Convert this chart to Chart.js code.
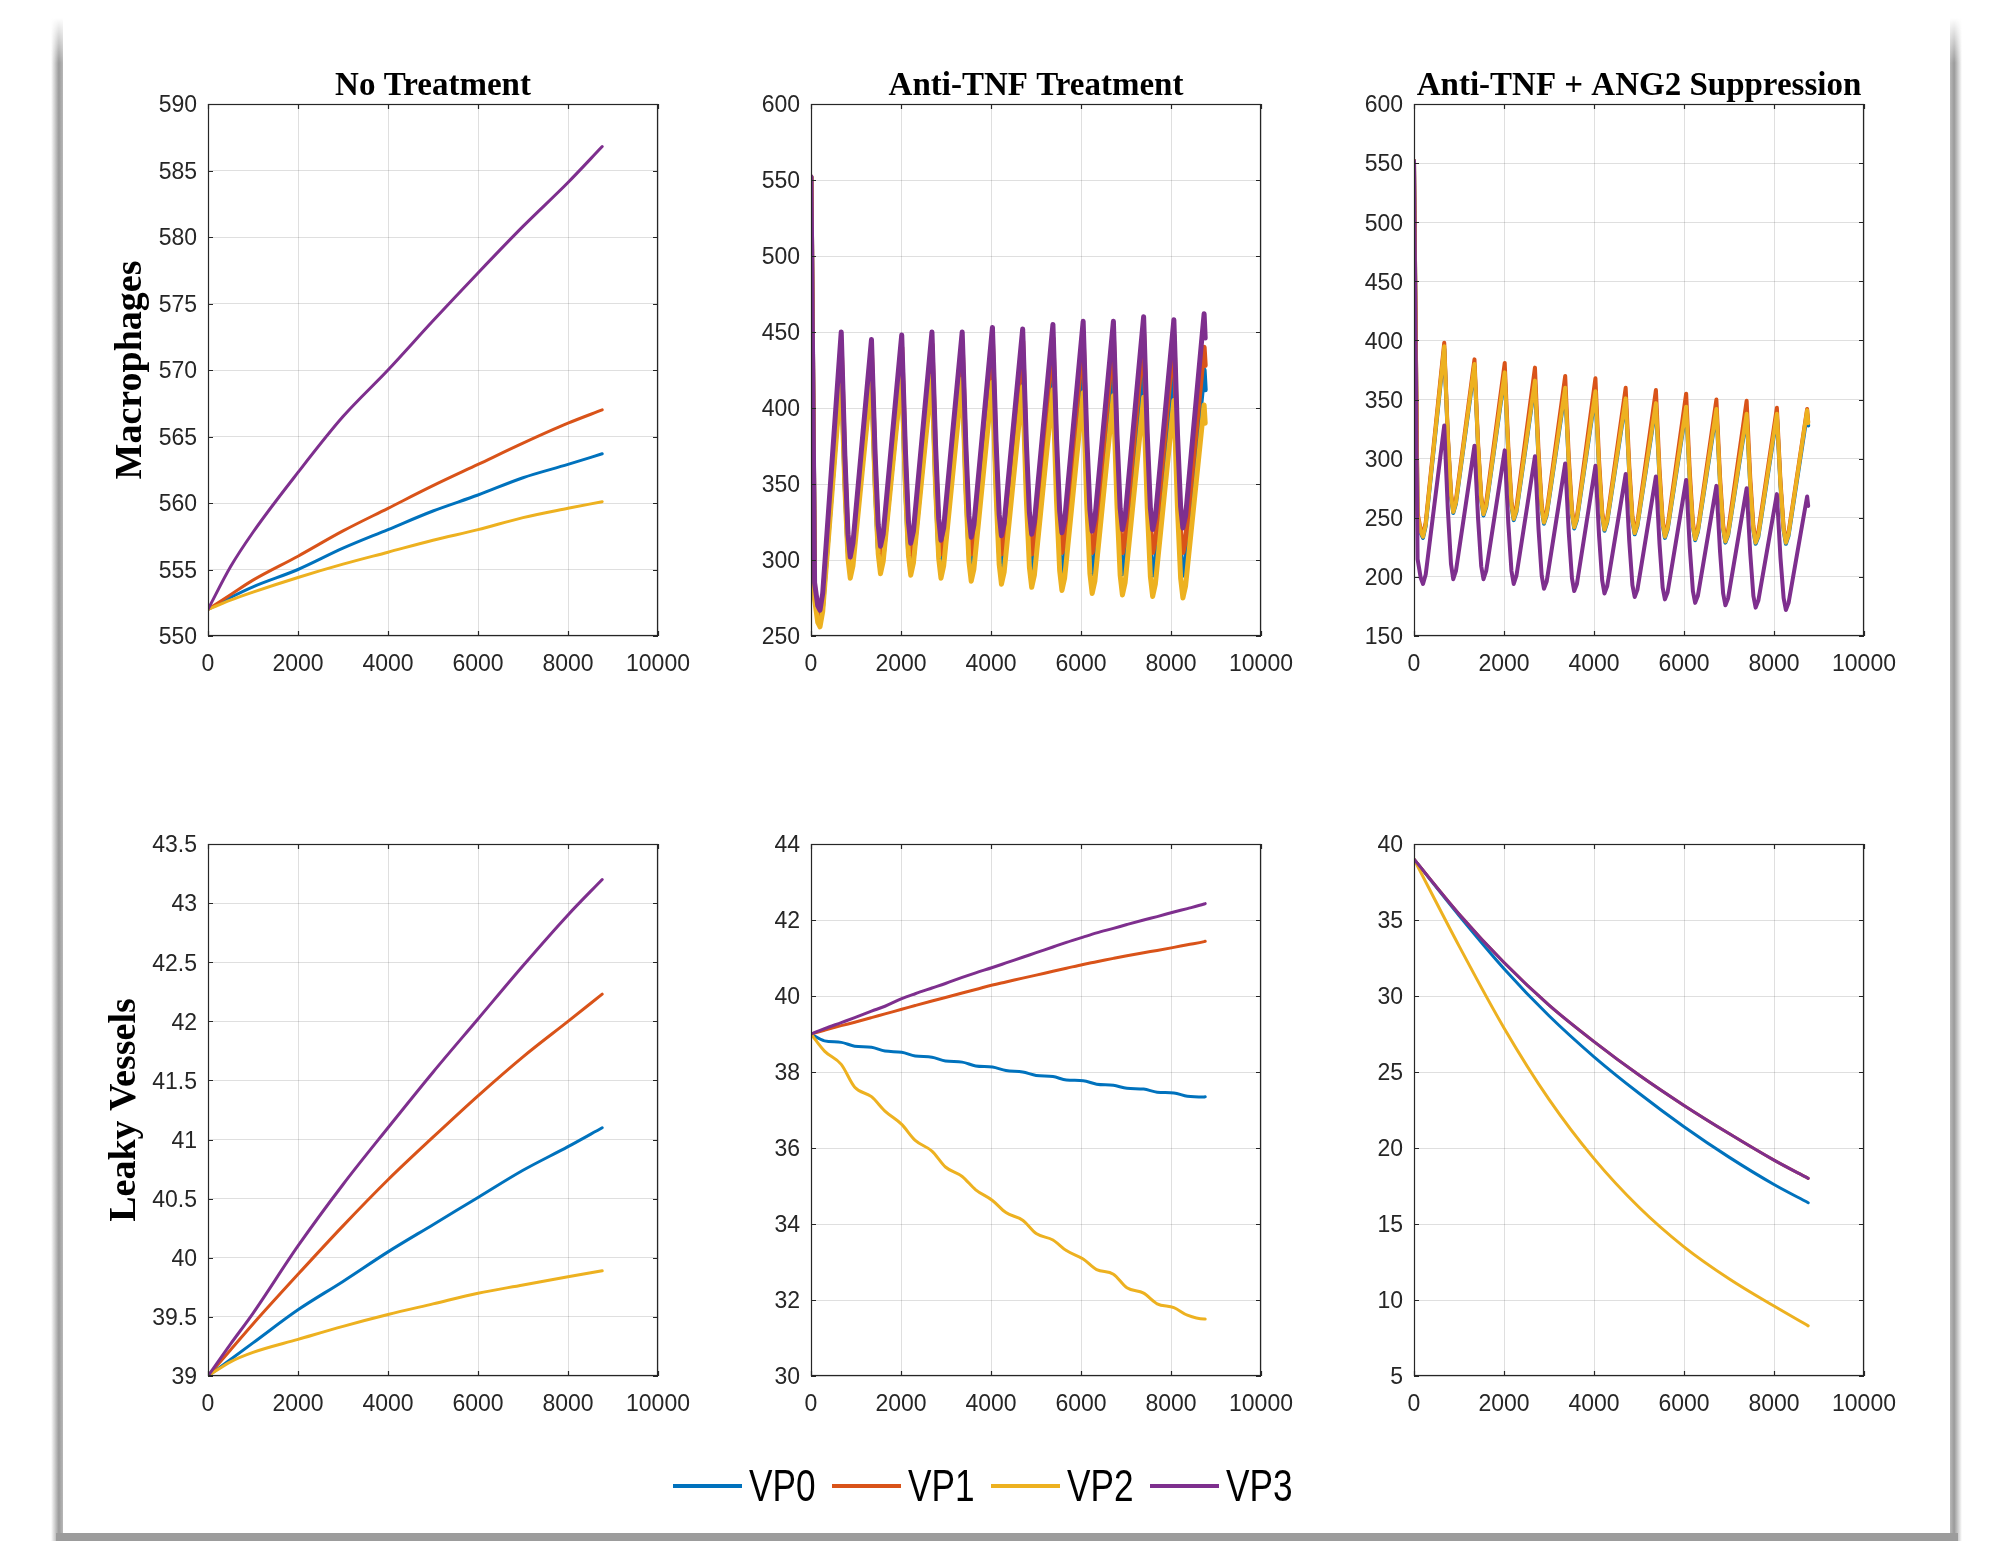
<!DOCTYPE html>
<html>
<head>
<meta charset="utf-8">
<script src="https://cdn.jsdelivr.net/npm/chart.js@4.4.0/dist/chart.umd.min.js"></script>
<style>
  html, body { margin: 0; padding: 0; background: #fff; }
  body { width: 1992px; height: 1541px; position: relative; overflow: hidden; }
  .panel { position: absolute; }
  .edge { position: absolute; }
  #edgeLeft { left: 51px; top: 18px; width: 12px; height: 1523px;
    background: linear-gradient(to right, rgba(160,160,160,0), #9a9a9a 65%, #b8b8b8);
    -webkit-mask-image: linear-gradient(to bottom, transparent, #000 45px); }
  #edgeRight { left: 1950px; top: 18px; width: 12px; height: 1523px;
    background: linear-gradient(to left, rgba(160,160,160,0), #9a9a9a 65%, #b8b8b8);
    -webkit-mask-image: linear-gradient(to bottom, transparent, #000 45px); }
  #edgeBottom { left: 56px; top: 1533px; width: 1902px; height: 8px; background: #9c9c9c; }
  #legend { position: absolute; left: 673px; top: 1461px; height: 50px; display: flex; align-items: center; }
  #legend .item { width: 159px; display: flex; align-items: center; }
  #legend .swatch { width: 70px; height: 4px; }
  #legend .name { margin-left: 7px; font: 44px "Liberation Sans", Arial, sans-serif; line-height: 1;
    color: #000; display: inline-block; transform: scaleX(0.8); transform-origin: left center; }
</style>
</head>
<body>
<div class="edge" id="edgeLeft"></div>
<div class="edge" id="edgeRight"></div>
<div class="edge" id="edgeBottom"></div>

<div class="panel" style="left:88px;top:63px"><canvas id="c1" width="620" height="623"></canvas></div>
<div class="panel" style="left:691px;top:63px"><canvas id="c2" width="620" height="623"></canvas></div>
<div class="panel" style="left:1294px;top:63px"><canvas id="c3" width="620" height="623"></canvas></div>
<div class="panel" style="left:88px;top:818px"><canvas id="c4" width="620" height="608"></canvas></div>
<div class="panel" style="left:691px;top:818px"><canvas id="c5" width="620" height="608"></canvas></div>
<div class="panel" style="left:1294px;top:818px"><canvas id="c6" width="620" height="608"></canvas></div>

<div id="legend"></div>

<script>
// series names and MATLAB default colours
const NAMES = ['VP0', 'VP1', 'VP2', 'VP3'];
const COLORS = ['#0072BD', '#D95319', '#EDB120', '#7E2F8E'];

// x axis (hours)
const X_MAX = 10000;
const X_STEP = 2000;

// smooth panels: sampled hours
const hours = [0, 500, 1000, 2000, 3000, 4000, 5000, 6000, 7000, 8000, 8760];

// No treatment - macrophages
const noTxMacVP0 = [552, 552.9, 553.7, 555.0, 556.6, 558.0, 559.4, 560.6, 561.9, 562.9, 563.7];
const noTxMacVP1 = [552, 553.1, 554.2, 556.0, 557.9, 559.6, 561.3, 562.9, 564.5, 566.0, 567.0];
const noTxMacVP2 = [552, 552.7, 553.3, 554.4, 555.4, 556.3, 557.2, 558.0, 558.9, 559.6, 560.1];
const noTxMacVP3 = [552, 555.2, 557.8, 562.3, 566.5, 570.0, 573.7, 577.3, 580.8, 584.1, 586.8];

// No treatment - leaky vessels
const noTxLeakVP0 = [39.0, 39.14, 39.28, 39.56, 39.80, 40.05, 40.28, 40.51, 40.74, 40.94, 41.10];
const noTxLeakVP1 = [39.0, 39.22, 39.44, 39.86, 40.27, 40.66, 41.02, 41.37, 41.70, 42.00, 42.23];
const noTxLeakVP2 = [39.0, 39.12, 39.20, 39.31, 39.42, 39.52, 39.61, 39.70, 39.77, 39.84, 39.89];
const noTxLeakVP3 = [39.0, 39.27, 39.53, 40.10, 40.62, 41.10, 41.57, 42.02, 42.47, 42.90, 43.20];

// dosing panels: peak, fall, near trough, trough, early rise in each 672 h cycle
const doseHours = [0, 80, 150, 200, 260, 672, 752, 822, 872, 932,
  1344, 1424, 1494, 1544, 1604, 2016, 2096, 2166, 2216, 2276,
  2688, 2768, 2838, 2888, 2948, 3360, 3440, 3510, 3560, 3620,
  4032, 4112, 4182, 4232, 4292, 4704, 4784, 4854, 4904, 4964,
  5376, 5456, 5526, 5576, 5636, 6048, 6128, 6198, 6248, 6308,
  6720, 6800, 6870, 6920, 6980, 7392, 7472, 7542, 7592, 7652,
  8064, 8144, 8214, 8264, 8324, 8736, 8760];

// Anti-TNF - macrophages
const tnfMacVP0 = [552, 278, 263, 260, 270, 428, 354, 307, 294, 302,
  424, 353, 308, 295, 303, 426, 353, 307, 294, 302,
  427, 353, 306, 293, 301, 427, 353, 306, 293, 301,
  428, 353, 306, 292, 300, 428, 353, 306, 292, 300,
  430, 354, 305, 291, 299, 431, 354, 305, 291, 299,
  431, 354, 305, 291, 299, 432, 354, 304, 290, 298,
  431, 353, 304, 290, 298, 425, 412];
const tnfMacVP1 = [552, 280, 265, 262, 272, 440, 362, 312, 298, 306,
  436, 362, 315, 302, 310, 440, 365, 317, 303, 311,
  442, 366, 318, 304, 312, 442, 366, 318, 304, 312,
  444, 367, 318, 304, 312, 444, 367, 318, 304, 313,
  446, 368, 319, 305, 313, 447, 369, 319, 305, 313,
  447, 369, 319, 305, 314, 449, 370, 319, 305, 313,
  448, 369, 319, 305, 313, 440, 428];
const tnfMacVP2 = [552, 274, 259, 256, 266, 422, 348, 301, 288, 296,
  420, 349, 304, 291, 299, 422, 349, 303, 290, 298,
  421, 348, 301, 288, 296, 419, 346, 299, 286, 294,
  417, 344, 297, 284, 292, 414, 341, 295, 282, 290,
  412, 339, 293, 280, 288, 410, 337, 291, 278, 286,
  408, 336, 290, 277, 285, 407, 335, 289, 276, 284,
  405, 334, 288, 275, 283, 402, 390];
const tnfMacVP3 = [552, 285, 270, 267, 278, 450, 369, 317, 302, 311,
  445, 370, 323, 309, 317, 448, 373, 325, 311, 319,
  450, 375, 327, 313, 321, 450, 376, 329, 315, 323,
  453, 378, 330, 316, 324, 452, 378, 331, 317, 325,
  455, 380, 332, 318, 326, 457, 381, 333, 319, 327,
  457, 382, 334, 320, 328, 460, 383, 334, 320, 328,
  458, 383, 335, 321, 329, 462, 446];

// Anti-TNF + ANG2 suppression - macrophages
const angMacVP0 = [552, 251, 237, 233, 243, 393, 317, 268, 254, 262,
  378, 309, 265, 252, 259, 371, 303, 260, 248, 255,
  364, 299, 257, 245, 252, 358, 294, 253, 241, 248,
  355, 291, 251, 239, 246, 349, 287, 247, 236, 243,
  345, 283, 244, 233, 240, 342, 281, 242, 231, 238,
  340, 279, 240, 229, 235, 336, 277, 239, 228, 234,
  336, 277, 239, 228, 235, 338, 328];
const angMacVP1 = [552, 254, 240, 236, 246, 398, 320, 271, 257, 265,
  384, 313, 268, 255, 263, 381, 310, 264, 251, 259,
  377, 306, 261, 248, 255, 370, 301, 257, 244, 251,
  368, 299, 255, 242, 249, 360, 294, 251, 239, 246,
  358, 291, 248, 236, 243, 355, 289, 246, 234, 241,
  350, 285, 244, 232, 239, 349, 284, 243, 231, 238,
  343, 281, 242, 231, 238, 342, 331];
const angMacVP2 = [552, 252, 238, 234, 244, 395, 318, 269, 255, 263,
  380, 310, 266, 253, 260, 373, 305, 261, 249, 256,
  366, 300, 258, 246, 253, 360, 295, 254, 242, 249,
  357, 293, 252, 240, 247, 351, 288, 248, 237, 244,
  347, 285, 245, 234, 241, 344, 282, 243, 232, 239,
  342, 280, 241, 230, 236, 338, 278, 240, 229, 235,
  338, 278, 240, 229, 236, 341, 330];
const angMacVP3 = [552, 215, 199, 194, 202, 328, 257, 211, 198, 205,
  311, 249, 209, 198, 205, 307, 245, 205, 194, 201,
  302, 240, 201, 190, 196, 296, 237, 199, 188, 194,
  294, 235, 197, 186, 192, 287, 230, 193, 183, 189,
  285, 228, 191, 181, 187, 282, 225, 188, 178, 184,
  277, 222, 186, 176, 182, 275, 220, 184, 174, 180,
  270, 216, 182, 172, 178, 268, 260];

// Anti-TNF - leaky vessels (dose times and 300 h after)
const stepHours = [0, 300, 672, 972, 1344, 1644, 2016, 2316, 2688, 2988, 3360, 3660,
  4032, 4332, 4704, 5004, 5376, 5676, 6048, 6348, 6720, 7020, 7392, 7692,
  8064, 8364, 8736, 8760];
const tnfLeakVP0 = [39.0, 38.82, 38.78, 38.68, 38.65, 38.55, 38.52, 38.42, 38.39, 38.29, 38.26, 38.16,
  38.13, 38.04, 38.00, 37.91, 37.88, 37.79, 37.77, 37.68, 37.65, 37.57, 37.55, 37.47,
  37.45, 37.36, 37.34, 37.35];
const tnfLeakVP1 = [39.0, 39.10, 39.22, 39.31, 39.43, 39.53, 39.65, 39.75, 39.87, 39.96, 40.08, 40.17,
  40.29, 40.37, 40.47, 40.55, 40.65, 40.73, 40.83, 40.90, 40.99, 41.06, 41.14, 41.20,
  41.28, 41.35, 41.43, 41.44];
const tnfLeakVP2 = [39.0, 38.55, 38.20, 37.60, 37.35, 36.97, 36.62, 36.20, 35.92, 35.50, 35.25, 34.90,
  34.62, 34.30, 34.10, 33.75, 33.58, 33.30, 33.08, 32.80, 32.68, 32.32, 32.18, 31.90,
  31.80, 31.60, 31.50, 31.50];
const tnfLeakVP3 = [39.0, 39.14, 39.30, 39.43, 39.60, 39.73, 39.93, 40.06, 40.21, 40.33, 40.49, 40.61,
  40.75, 40.87, 41.02, 41.14, 41.29, 41.41, 41.55, 41.66, 41.78, 41.88, 42.00, 42.09,
  42.21, 42.30, 42.42, 42.43];

// Anti-TNF + ANG2 suppression - leaky vessels
const decayHours = [0, 1000, 2000, 3000, 4000, 5000, 6000, 7000, 8000, 8760];
const angLeakVP0 = [39.0, 35.3, 31.8, 28.7, 26.0, 23.6, 21.4, 19.4, 17.6, 16.4];
const angLeakVP1 = [39.0, 35.4, 32.2, 29.4, 27.0, 24.8, 22.8, 20.95, 19.2, 18.0];
const angLeakVP2 = [39.0, 33.3, 27.9, 23.2, 19.3, 16.1, 13.5, 11.4, 9.6, 8.3];
const angLeakVP3 = [39.0, 35.4, 32.2, 29.4, 27.0, 24.8, 22.8, 20.95, 19.2, 18.0];

const TICK_COLOR = '#262626';
const GRID_COLOR = 'rgba(38,38,38,0.15)';
const tickFont = { family: '"Liberation Sans", Arial, sans-serif', size: 23 };
const serifBold = (size, lh) => ({ family: '"Liberation Serif", "Times New Roman", serif', size: size, weight: 'bold', lineHeight: lh });

// MATLAB style box with inward ticks
const boxPlugin = {
  id: 'matlabBox',
  afterDatasetsDraw(chart) {
    const { ctx, chartArea: a, scales } = chart;
    const xs = scales.x, ys = scales.y;
    ctx.save();
    ctx.strokeStyle = TICK_COLOR;
    ctx.lineWidth = 1.2;
    ctx.strokeRect(a.left + 0.5, a.top + 0.5, a.right - a.left - 1, a.bottom - a.top - 1);
    ctx.beginPath();
    xs.ticks.forEach(t => {
      const p = Math.round(xs.getPixelForValue(t.value)) + 0.5;
      ctx.moveTo(p, a.bottom); ctx.lineTo(p, a.bottom - 5);
      ctx.moveTo(p, a.top); ctx.lineTo(p, a.top + 5);
    });
    ys.ticks.forEach(t => {
      const p = Math.round(ys.getPixelForValue(t.value)) + 0.5;
      ctx.moveTo(a.left, p); ctx.lineTo(a.left + 5, p);
      ctx.moveTo(a.right, p); ctx.lineTo(a.right - 5, p);
    });
    ctx.stroke();
    ctx.restore();
  }
};

function series(xs, ys, i, width, smooth) {
  return {
    label: NAMES[i],
    data: xs.map((x, k) => ({ x: x, y: ys[k] })),
    borderColor: COLORS[i],
    backgroundColor: COLORS[i],
    borderWidth: width,
    pointRadius: 0,
    fill: false,
    tension: 0,
    cubicInterpolationMode: smooth ? 'monotone' : 'default',
    borderJoinStyle: 'round',
    borderCapStyle: 'round',
    order: 4 - i
  };
}

function panel(id, cfg) {
  new Chart(document.getElementById(id), {
    type: 'line',
    data: { datasets: cfg.datasets },
    options: {
      responsive: false,
      animation: false,
      devicePixelRatio: 1,
      layout: { padding: { top: cfg.title ? 0 : 26, right: 50, bottom: 0, left: 0 } },
      plugins: {
        legend: { display: false },
        tooltip: { enabled: false },
        title: {
          display: !!cfg.title,
          text: cfg.title || '',
          fullSize: false,
          color: '#000',
          font: serifBold(33, 1),
          padding: { top: 6.6, bottom: 1.4 }
        }
      },
      scales: {
        x: {
          type: 'linear',
          min: 0, max: X_MAX,
          ticks: { stepSize: X_STEP, padding: 15, color: TICK_COLOR, font: tickFont,
                   maxRotation: 0, autoSkip: false, callback: v => String(v) },
          grid: { color: GRID_COLOR, drawTicks: false },
          border: { display: false },
          afterFit: s => { s.height = 50; }
        },
        y: {
          type: 'linear',
          min: cfg.yMin, max: cfg.yMax,
          ticks: { stepSize: cfg.yStep, padding: 11, labelOffset: 2, color: TICK_COLOR, font: tickFont,
                   autoSkip: false, callback: v => String(v) },
          grid: { color: GRID_COLOR, drawTicks: false },
          border: { display: false },
          title: {
            display: !!cfg.yTitle,
            text: cfg.yTitle || '',
            color: '#000',
            font: serifBold(38, 1),
            padding: { top: cfg.yTitlePad || 0, bottom: 0 }
          },
          afterFit: s => { s.width = 120; }
        }
      }
    },
    plugins: [boxPlugin]
  });
}

panel('c1', {
  title: 'No Treatment', yTitle: 'Macrophages', yTitlePad: 24,
  yMin: 550, yMax: 590, yStep: 5,
  datasets: [
    series(hours, noTxMacVP0, 0, 3, true),
    series(hours, noTxMacVP1, 1, 3, true),
    series(hours, noTxMacVP2, 2, 3, true),
    series(hours, noTxMacVP3, 3, 3, true)
  ]
});

panel('c2', {
  title: 'Anti-TNF Treatment',
  yMin: 250, yMax: 600, yStep: 50,
  datasets: [
    series(doseHours, tnfMacVP0, 0, 5, false),
    series(doseHours, tnfMacVP1, 1, 5, false),
    series(doseHours, tnfMacVP2, 2, 5, false),
    series(doseHours, tnfMacVP3, 3, 5, false)
  ]
});

panel('c3', {
  title: 'Anti-TNF + ANG2 Suppression',
  yMin: 150, yMax: 600, yStep: 50,
  datasets: [
    series(doseHours, angMacVP0, 0, 4, false),
    series(doseHours, angMacVP1, 1, 4, false),
    series(doseHours, angMacVP2, 2, 4, false),
    series(doseHours, angMacVP3, 3, 4, false)
  ]
});

panel('c4', {
  yTitle: 'Leaky Vessels', yTitlePad: 18,
  yMin: 39, yMax: 43.5, yStep: 0.5,
  datasets: [
    series(hours, noTxLeakVP0, 0, 3, true),
    series(hours, noTxLeakVP1, 1, 3, true),
    series(hours, noTxLeakVP2, 2, 3, true),
    series(hours, noTxLeakVP3, 3, 3, true)
  ]
});

panel('c5', {
  yMin: 30, yMax: 44, yStep: 2,
  datasets: [
    series(stepHours, tnfLeakVP0, 0, 3, true),
    series(stepHours, tnfLeakVP1, 1, 3, true),
    series(stepHours, tnfLeakVP2, 2, 3, true),
    series(stepHours, tnfLeakVP3, 3, 3, true)
  ]
});

panel('c6', {
  yMin: 5, yMax: 40, yStep: 5,
  datasets: [
    series(decayHours, angLeakVP0, 0, 3, true),
    series(decayHours, angLeakVP1, 1, 3, true),
    series(decayHours, angLeakVP2, 2, 3, true),
    series(decayHours, angLeakVP3, 3, 3, true)
  ]
});

// shared legend
const legend = document.getElementById('legend');
NAMES.forEach((name, i) => {
  const item = document.createElement('div');
  item.className = 'item';
  item.innerHTML = '<span class="swatch" style="background:' + COLORS[i] + '"></span><span class="name">' + name + '</span>';
  legend.appendChild(item);
});
</script>
</body>
</html>
